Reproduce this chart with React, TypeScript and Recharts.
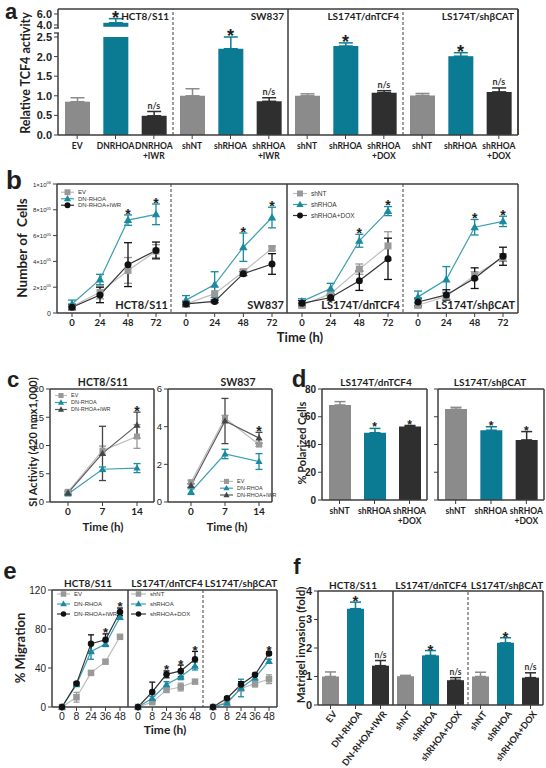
import React from 'react'
import {
  BarChart,
  Bar,
  LineChart,
  Line,
  XAxis,
  YAxis,
  ErrorBar,
  ReferenceLine,
  ReferenceDot,
} from 'recharts'

const GRAY = '#8b8b8b'
const TEAL = '#0b7b93'
const DARK = '#2f2f2f'
const AX = '#3c3c3c'
const INK = '#1e1e1e'
const SANS = '"Liberation Sans", Arial, sans-serif'
const LATO = 'Lato, "Open Sans", sans-serif'

const C_CTRL = '#999999'
const C_CTRL_LINE = '#bdbdbd'
const C_KD = '#1a8aa0'
const C_KD_LINE = '#3d9fb2'
const C_DRUG = '#111111'
const C_DRUG_LINE = '#333333'
const C_IWR = '#454545'
const C_IWR_LINE = '#5a5a5a'

// ---- a: relative TCF4 activity (broken y axis)
const aLabels = ['EV', 'DNRHOA', 'DNRHOA\n+IWR', 'shNT', 'shRHOA', 'shRHOA\n+IWR', 'shNT', 'shRHOA', 'shRHOA\n+DOX', 'shNT', 'shRHOA', 'shRHOA\n+DOX']
const aMean = [0.85, 4.4, 0.49, 1.0, 2.2, 0.86, 1.0, 2.27, 1.08, 1.01, 2.01, 1.1]
const aSd = [0.1, 0.75, 0.11, 0.18, 0.3, 0.09, 0.05, 0.08, 0.05, 0.05, 0.09, 0.1]
const aMarks = ['', '*', 'n/s', '', '*', 'n/s', '', '*', 'n/s', '', '*', 'n/s']
const aGroups = ['HCT8/S11', 'SW837', 'LS174T/dnTCF4', 'LS174T/shβCAT']
const aTicks = [0, 0.5, 1, 1.5, 2, 2.5, 4, 6]

// ---- b: cell number (x10^5)
const bTimes = [0, 24, 48, 72]
const bTicks = [0, 2, 4, 6, 8, 10]
const bSubs = ['HCT8/S11', 'SW837', 'LS174T/dnTCF4', 'LS174T/shβCAT']
const bNamesA = ['EV', 'DN-RHOA', 'DN-RHOA+IWR']
const bNamesB = ['shNT', 'shRHOA', 'shRHOA+DOX']
const b1Ctrl = [0.5, 1.6, 3.3, 4.8]
const b1CtrlSd = [0.2, 0.5, 1.0, 0.5]
const b1Kd = [0.7, 2.6, 7.2, 7.65]
const b1KdSd = [0.3, 0.4, 0.4, 0.8]
const b1Drug = [0.45, 1.4, 3.75, 4.85]
const b1DrugSd = [0.2, 0.6, 1.7, 0.65]
const b2Ctrl = [0.7, 1.5, 3.2, 5.0]
const b2CtrlSd = [0.2, 0.5, 0.15, 0.15]
const b2Kd = [1.0, 2.2, 5.1, 7.4]
const b2KdSd = [0.35, 1.0, 1.1, 0.8]
const b2Drug = [0.7, 0.9, 3.05, 3.8]
const b2DrugSd = [0.2, 0.1, 0.15, 0.8]
const b3Ctrl = [0.6, 1.5, 3.4, 5.2]
const b3CtrlSd = [0.2, 0.2, 0.4, 1.1]
const b3Kd = [0.9, 1.9, 5.6, 7.9]
const b3KdSd = [0.2, 0.4, 0.5, 0.35]
const b3Drug = [0.75, 1.2, 2.5, 4.2]
const b3DrugSd = [0.2, 0.2, 0.75, 1.6]
const b4Ctrl = [0.6, 1.3, 2.9, 4.3]
const b4CtrlSd = [0.2, 0.2, 0.3, 0.3]
const b4Kd = [1.25, 2.6, 6.65, 7.1]
const b4KdSd = [0.45, 1.0, 0.6, 0.4]
const b4Drug = [0.85, 1.4, 2.7, 4.4]
const b4DrugSd = [0.3, 0.4, 0.8, 0.7]

// ---- c: SI activity
const cTimes = [0, 7, 14]
const cTitles = ['HCT8/S11', 'SW837']
const c1Ev = [1.8, 9.1, 11.6]
const c1EvSd = [0.3, 0.8, 2.1]
const c1Dn = [1.4, 5.8, 6.0]
const c1DnSd = [0.2, 0.4, 0.8]
const c1Iwr = [1.6, 8.6, 13.6]
const c1IwrSd = [0.3, 4.8, 2.3]
const c2Ev = [1.05, 4.45, 3.05]
const c2EvSd = [0.1, 0.15, 0.1]
const c2Dn = [0.55, 2.55, 2.15]
const c2DnSd = [0.15, 0.25, 0.42]
const c2Iwr = [0.88, 4.3, 3.4]
const c2IwrSd = [0.1, 1.2, 0.3]

// ---- d: polarized cells
const dLabels = ['shNT', 'shRHOA', 'shRHOA\n+DOX']
const dTitles = ['LS174T/dnTCF4', 'LS174T/shβCAT']
const d1Mean = [68.5, 48.5, 53]
const d1Sd = [2.4, 3.1, 0.7]
const d2Mean = [65.5, 50.3, 43.3]
const d2Sd = [1.3, 2.5, 6]
const dMarks = ['', '*', '*']

// ---- e: migration
const eTimes = ['0', '8', '24', '36', '48']
const eTitles = ['HCT8/S11', 'LS174T/dnTCF4', 'LS174T/shβCAT']
const e1Ev = [0, 10, 35, 46.5, 72]
const e1EvSd = [0, 5, 2, 1.5, 2]
const e1Dn = [0, 23, 57, 64.5, 92]
const e1DnSd = [0, 1.5, 8, 2.5, 2]
const e1Iwr = [0, 24, 65, 69, 97.5]
const e1IwrSd = [0, 1.5, 9, 6, 4]
const e2Nt = [0, 5, 17.5, 20.5, 26]
const e2NtSd = [0, 1.5, 2, 4, 2]
const e2Rh = [0, 9, 23, 31, 42]
const e2RhSd = [0, 2, 3, 3, 4]
const e2Dox = [0, 15.5, 33.5, 37, 49]
const e2DoxSd = [0, 10, 3.5, 6, 8]
const e3Nt = [0, 5, 19, 24, 28.5]
const e3NtSd = [0, 1.5, 2, 3.5, 4.5]
const e3Rh = [0, 4, 19.5, 30, 47]
const e3RhSd = [0, 1.5, 9, 2, 2]
const e3Dox = [0, 9, 23, 33, 55]
const e3DoxSd = [0, 1.5, 3, 1.5, 1.5]

// ---- f: matrigel invasion
const fLabels = ['EV', 'DN-RHOA', 'DN-RHOA+IWR', 'shNT', 'shRHOA', 'shRHOA+DOX', 'shNT', 'shRHOA', 'shRHOA+DOX']
const fTitles = ['HCT8/S11', 'LS174T/dnTCF4', 'LS174T/shβCAT']
const fMean = [1.0, 3.38, 1.38, 1.01, 1.74, 0.87, 1.0, 2.18, 0.96]
const fSd = [0.16, 0.23, 0.18, 0.03, 0.17, 0.09, 0.15, 0.18, 0.17]
const fMarks = ['', '*', 'n/s', '', '*', 'n/s', '', '*', 'n/s']

// ---------------------------------------------------------------
type Box = { x0: number; y0: number; x1: number; y1: number }
const PAD = 6

// the frame axes (top / right) are 1px thick boxes, so the margins lose 1px there
function place(b: Box, yw: number, xh: number) {
  return {
    style: { position: 'absolute' as const, left: b.x0 - yw - PAD, top: b.y0 - PAD },
    width: b.x1 - b.x0 + yw + 2 * PAD,
    height: b.y1 - b.y0 + xh + 2 * PAD,
    margin: { top: PAD - 1, right: PAD - 1, bottom: PAD, left: PAD },
  }
}

// broken axis for panel a: 0..2.5 linear, then 4..6 squeezed
const aDisp = (v: number) => (v <= 2.5 ? v : 2.806 + (v - 4) * 0.1405)
const A_TOP = 3.214

const SERIES = ['g', 't', 'k']
const FILL: Record<string, string> = { g: GRAY, t: TEAL, k: DARK }

function barRows(prefix: string, labels: string[], mean: number[], sd: number[], marks: string[], f = (v: number) => v) {
  return labels.map((label, i) => {
    const s = SERIES[i % 3]
    const m = f(mean[i])
    const hi = f(mean[i] + sd[i])
    return { id: `${prefix}${i}`, label, [s]: m, [`${s}E`]: [0, hi - m], hi, mark: marks[i] }
  })
}

function Marker({ kind, cx, cy, color, s }: any) {
  if (cx == null || cy == null) return <g />
  if (kind === 'sq') return <rect x={cx - s / 2} y={cy - s / 2} width={s} height={s} fill={color} />
  if (kind === 'tri')
    return <polygon points={`${cx},${cy - s * 0.62} ${cx - s * 0.6},${cy + s * 0.42} ${cx + s * 0.6},${cy + s * 0.42}`} fill={color} />
  return <circle cx={cx} cy={cy} r={s / 2} fill={color} />
}

function Mark({ cx, cy, text, size }: any) {
  if (text === '*') {
    return (
      <text x={cx} y={cy - 1.5 + 0.38 * size} textAnchor="middle" fontSize={size} fontWeight="bold" fontFamily={SANS} fill={INK}>
        *
      </text>
    )
  }
  return (
    <text x={cx} y={cy - 2.5} textAnchor="middle" fontSize={size} fontWeight={700} fontFamily={LATO} fill="#333">
      {text}
    </text>
  )
}

const BrokenBar = (p: any) => {
  const { x, y, width, height, fill } = p
  if (!height || height <= 0) return <g />
  const v = p.payload ? p.payload.t : 0
  const rect = <rect x={x} y={y} width={width} height={height} fill={fill} />
  if (!v || v <= 2.5) return rect
  const ppu = height / v
  const base = y + height
  return (
    <g>
      {rect}
      <rect x={x - 1} y={base - 2.76 * ppu} width={width + 2} height={0.26 * ppu} fill="#fff" />
    </g>
  )
}

const aTickDisp = aTicks.map(aDisp)
const ATick = (p: any) => {
  const d = p.payload.value
  const idx = aTickDisp.findIndex((v) => Math.abs(v - d) < 1e-6)
  const val = aTicks[idx]
  const axisX = p.x + 6
  return (
    <g>
      <text x={p.x} y={p.y} dy={4} textAnchor="end" fontSize={11} fontWeight="bold" fontFamily={SANS} fill={INK}>
        {val.toFixed(1)}
      </text>
      {val === 4 && (
        <g>
          <rect x={axisX - 3} y={p.y + 3} width={6} height={5} fill="#fff" />
          <line x1={axisX - 4} x2={axisX + 1} y1={p.y + 3} y2={p.y + 3} stroke={AX} strokeWidth={1.3} />
          <line x1={axisX - 4} x2={axisX + 1} y1={p.y + 8} y2={p.y + 8} stroke={AX} strokeWidth={1.3} />
        </g>
      )}
    </g>
  )
}

const SciTick = (p: any) => {
  const v = p.payload.value
  if (v === 0)
    return (
      <text x={p.x} y={p.y} dy={2.5} textAnchor="end" fontSize={7} fontFamily={SANS} fill={INK}>
        0
      </text>
    )
  const m = v >= 10 ? v / 10 : v
  const e = v >= 10 ? '06' : '05'
  return (
    <text x={p.x} y={p.y} dy={2.5} textAnchor="end" fontSize={6} fontFamily={SANS} fill={INK}>
      {m}×10
      <tspan dy={-2.5} fontSize={4}>
        {e}
      </tspan>
    </text>
  )
}

const labelTick = (rows: any[], fs: number) => (p: any) => {
  const row = rows.find((r) => r.id === p.payload.value)
  const lines = String(row ? row.label : '').split('\n')
  return (
    <text x={p.x} y={p.y} textAnchor="middle" fontSize={fs} fontFamily={LATO} fontWeight={700} fill={INK}>
      {lines.map((l, i) => (
        <tspan key={i} x={p.x} dy={i === 0 ? '0.9em' : '1.2em'}>
          {l}
        </tspan>
      ))}
    </text>
  )
}

const rotTick = (rows: any[], fs: number) => (p: any) => {
  const row = rows.find((r) => r.id === p.payload.value)
  const ax = p.x + 4
  const ay = p.y + 1
  return (
    <text x={ax} y={ay} transform={`rotate(-52 ${ax} ${ay})`} textAnchor="end" dominantBaseline="central" fontSize={fs} fontFamily={LATO} fontWeight={700} fill={INK}>
      {row ? row.label : ''}
    </text>
  )
}

const frameLine = (dash?: boolean) => ({ stroke: AX, strokeWidth: dash ? 1 : 1.5, strokeDasharray: dash ? '3 2' : undefined })

function BarPanel(p: any) {
  const pl = place(p.box, p.yw, p.xh)
  const rows = p.rows
  return (
    <div style={pl.style}>
      <BarChart width={pl.width} height={pl.height} margin={pl.margin} data={rows} barGap={-p.barSize} barSize={p.barSize}>
        <XAxis dataKey="id" interval={0} height={p.xh} tickSize={4} tick={p.xTick} tickLine={{ stroke: AX }} axisLine={{ stroke: AX, strokeWidth: 1.5 }} />
        <XAxis xAxisId="top" dataKey="id" orientation="top" height={1} tick={false} tickLine={false} axisLine={frameLine()} />
        <YAxis
          domain={[0, p.top]}
          ticks={p.yTicks}
          width={p.yw}
          interval={0}
          tickSize={4}
          tick={p.yTick}
          tickFormatter={p.yFmt}
          tickLine={{ stroke: AX }}
          axisLine={{ stroke: AX, strokeWidth: 1.5 }}
        />
        <YAxis yAxisId="right" orientation="right" width={1} domain={[0, 1]} tick={false} tickLine={false} axisLine={frameLine()} />
        {SERIES.map((s) => (
          <Bar key={s} dataKey={s} fill={FILL[s]} isAnimationActive={false} shape={s === 't' && p.tealShape ? p.tealShape : undefined}>
            <ErrorBar dataKey={`${s}E`} width={p.cap} stroke={FILL[s]} strokeWidth={1.5} direction="y" />
          </Bar>
        ))}
        {(p.dividers || []).map((d: any) => {
          const last = d.at >= rows.length
          return (
            <ReferenceLine
              key={d.at}
              x={rows[last ? rows.length - 1 : d.at].id}
              position={last ? 'end' : 'start'}
              {...frameLine(d.dash)}
              label={
                d.title
                  ? { value: d.title, position: 'insideTopRight', offset: 4, fontSize: p.titleSize, fontFamily: LATO, fontWeight: 700, fill: INK }
                  : undefined
              }
            />
          )
        })}
        {rows
          .filter((r: any) => r.mark)
          .map((r: any) => (
            <ReferenceDot
              key={r.id}
              x={r.id}
              y={r.hi}
              r={0}
              ifOverflow="visible"
              shape={(q: any) => <Mark cx={q.cx} cy={q.cy} text={r.mark} size={r.mark === '*' ? p.starSize : p.nsSize} />}
            />
          ))}
      </BarChart>
    </div>
  )
}

function LegendAt({ series, spec, ms }: any) {
  return (
    <svg
      width={spec.iconW + 70}
      height={series.length * spec.rowH + 2}
      style={{ position: 'absolute', left: spec.x, top: spec.y, overflow: 'visible' }}
    >
      {series.map((s: any, i: number) => {
        const cy = spec.rowH * (i + 0.5)
        return (
          <g key={s.key}>
            <line x1={0} x2={spec.iconW} y1={cy} y2={cy} stroke={s.line} strokeWidth={1.2} />
            <Marker kind={s.marker} cx={spec.iconW / 2} cy={cy} color={s.color} s={ms * 0.85} />
            <text x={spec.iconW + 4} y={cy} dy="0.35em" fontSize={spec.fs} fontFamily={SANS} fill="#333">
              {s.name}
            </text>
          </g>
        )
      })}
    </svg>
  )
}

function LinePanel(p: any) {
  const pl = place(p.box, p.yw, p.xh)
  const rows = p.xs.map((t: any, i: number) => {
    const r: any = { t }
    p.series.forEach((s: any) => {
      r[s.key] = s.mean[i]
      r[`${s.key}E`] = s.sd[i]
    })
    return r
  })
  return (
    <>
      <div style={pl.style}>
        <LineChart width={pl.width} height={pl.height} margin={pl.margin} data={rows}>
          <XAxis
            dataKey="t"
            type={p.xNum ? 'number' : 'category'}
            scale={p.xNum ? 'linear' : 'point'}
            domain={p.xNum ? [p.xs[0], p.xs[p.xs.length - 1]] : undefined}
            ticks={p.xNum ? p.xs : undefined}
            padding={{ left: p.padL, right: p.padR }}
            interval={0}
            height={p.xh}
            tickSize={4}
            tick={p.xTick}
            tickLine={{ stroke: AX }}
            axisLine={{ stroke: AX, strokeWidth: 1.5 }}
          />
          <XAxis xAxisId="top" dataKey="t" orientation="top" height={1} tick={false} tickLine={false} axisLine={frameLine()} />
          <YAxis
            domain={[0, p.yTop]}
            ticks={p.yTicks}
            hide={!p.yw}
            width={p.yw || 0}
            interval={0}
            tickSize={4}
            tick={p.yTick}
            tickLine={{ stroke: AX }}
            axisLine={{ stroke: AX, strokeWidth: 1.5 }}
          />
          <YAxis
            yAxisId="right"
            orientation="right"
            width={1}
            domain={[0, 1]}
            tick={false}
            tickLine={false}
            axisLine={frameLine(p.dash)}
            label={
              p.corner
                ? { value: p.corner, position: 'insideBottomRight', offset: 4, fontSize: 11, fontFamily: LATO, fontWeight: 700, fill: INK }
                : undefined
            }
          />
          {p.series.map((s: any) => (
            <Line
              key={s.key}
              dataKey={s.key}
              stroke={s.line}
              strokeWidth={1.2}
              isAnimationActive={false}
              activeDot={false}
              dot={(d: any) => <Marker key={`${s.key}-${d.index}`} kind={s.marker} cx={d.cx} cy={d.cy} color={s.color} s={p.ms} />}
            >
              <ErrorBar dataKey={`${s.key}E`} width={p.cap} stroke={s.color} strokeWidth={1.3} direction="y" />
            </Line>
          ))}
          {p.stars.map((st: any, j: number) => {
            const s = p.series.find((q: any) => q.key === st.k)
            return (
              <ReferenceDot
                key={j}
                x={p.xs[st.i]}
                y={s.mean[st.i] + s.sd[st.i]}
                r={0}
                ifOverflow="visible"
                shape={(q: any) => <Mark cx={q.cx} cy={q.cy} text="*" size={p.starSize} />}
              />
            )
          })}
        </LineChart>
      </div>
      {p.legend && <LegendAt series={p.series} spec={p.legend} ms={p.ms} />}
    </>
  )
}

function trio(names: string[], ctrl: number[], ctrlSd: number[], kd: number[], kdSd: number[], drug: number[], drugSd: number[], iwrTri = false) {
  return [
    { key: 'ctrl', name: names[0], mean: ctrl, sd: ctrlSd, marker: 'sq', color: C_CTRL, line: C_CTRL_LINE },
    { key: 'kd', name: names[1], mean: kd, sd: kdSd, marker: 'tri', color: C_KD, line: C_KD_LINE },
    iwrTri
      ? { key: 'drug', name: names[2], mean: drug, sd: drugSd, marker: 'tri', color: C_IWR, line: C_IWR_LINE }
      : { key: 'drug', name: names[2], mean: drug, sd: drugSd, marker: 'dot', color: C_DRUG, line: C_DRUG_LINE },
  ]
}

function Txt({ x, y, children, size, rotate = false, family = LATO, weight = 700 }: any) {
  return (
    <div
      style={{
        position: 'absolute',
        left: x,
        top: y,
        transform: `translate(-50%, -50%)${rotate ? ' rotate(-90deg)' : ''}`,
        fontSize: size,
        fontWeight: weight,
        fontFamily: family,
        whiteSpace: 'pre',
        lineHeight: 1,
        color: INK,
      }}
    >
      {children}
    </div>
  )
}

// ---------------------------------------------------------------
function PanelA() {
  const rows = barRows('a', aLabels, aMean, aSd, aMarks, aDisp)
  return (
    <BarPanel
      rows={rows}
      box={{ x0: 58, y0: 9, x1: 518, y1: 135 }}
      yw={40}
      xh={30}
      top={A_TOP}
      yTicks={aTickDisp}
      yTick={ATick}
      xTick={labelTick(rows, 8.5)}
      barSize={25}
      cap={7}
      titleSize={10}
      dividers={[
        { at: 3, dash: true, title: aGroups[0] },
        { at: 6, title: aGroups[1] },
        { at: 9, dash: true, title: aGroups[2] },
        { at: 12, title: aGroups[3] },
      ]}
      starSize={18}
      nsSize={9}
      tealShape={BrokenBar}
    />
  )
}

const lineTickB = { fontSize: 9.5, fontFamily: LATO, fontWeight: 700, fill: INK }

function PanelB() {
  const sets = [
    trio(bNamesA, b1Ctrl, b1CtrlSd, b1Kd, b1KdSd, b1Drug, b1DrugSd),
    trio(['shNT', 'shRHOA', 'shRHOA+IWR'], b2Ctrl, b2CtrlSd, b2Kd, b2KdSd, b2Drug, b2DrugSd),
    trio(bNamesB, b3Ctrl, b3CtrlSd, b3Kd, b3KdSd, b3Drug, b3DrugSd),
    trio(bNamesB, b4Ctrl, b4CtrlSd, b4Kd, b4KdSd, b4Drug, b4DrugSd),
  ]
  const edges = [57, 171, 287, 403, 518]
  const legends: any[] = [
    { x: 61, y: 188.5, rowH: 6.5, fs: 6, iconW: 13 },
    null,
    { x: 293, y: 187.5, rowH: 11, fs: 6.5, iconW: 14 },
    null,
  ]
  return (
    <>
      {sets.map((series, i) => (
        <LinePanel
          key={i}
          box={{ x0: edges[i], y0: 184, x1: edges[i + 1], y1: 313 }}
          yw={i === 0 ? 36 : 0}
          xh={18}
          yTop={10}
          yTicks={bTicks}
          yTick={SciTick}
          xs={bTimes}
          xNum
          padL={15}
          padR={15}
          xTick={lineTickB}
          series={series}
          stars={[{ i: 2, k: 'kd' }, { i: 3, k: 'kd' }]}
          starSize={14}
          dash={i % 2 === 0}
          corner={bSubs[i]}
          ms={7}
          cap={4}
          legend={legends[i]}
        />
      ))}
    </>
  )
}

const numTick = (fs: number, bold = true) => ({ fontSize: fs, fontFamily: SANS, fontWeight: bold ? 'bold' : 'normal', fill: INK })

function PanelC() {
  const s1 = trio(bNamesA, c1Ev, c1EvSd, c1Dn, c1DnSd, c1Iwr, c1IwrSd, true)
  const s2 = trio(bNamesA, c2Ev, c2EvSd, c2Dn, c2DnSd, c2Iwr, c2IwrSd, true)
  const xt = { fontSize: 10, fontFamily: LATO, fontWeight: 700, fill: INK }
  return (
    <>
      <LinePanel
        box={{ x0: 50, y0: 389, x1: 154, y1: 502 }}
        yw={26}
        xh={18}
        yTop={20}
        yTicks={[0, 5, 10, 15, 20]}
        yTick={numTick(9.5, false)}
        xs={cTimes}
        xNum
        padL={18}
        padR={17}
        xTick={xt}
        series={s1}
        stars={[{ i: 2, k: 'drug' }]}
        starSize={14}
        ms={6}
        cap={3.5}
        legend={{ x: 55, y: 391.5, rowH: 7, fs: 5.5, iconW: 12 }}
      />
      <LinePanel
        box={{ x0: 168, y0: 389, x1: 272, y1: 502 }}
        yw={16}
        xh={18}
        yTop={6}
        yTicks={[0, 2, 4, 6]}
        yTick={numTick(9.5, false)}
        xs={cTimes}
        xNum
        padL={23}
        padR={13}
        xTick={xt}
        series={s2}
        stars={[{ i: 2, k: 'drug' }]}
        starSize={14}
        ms={6}
        cap={3.5}
        legend={{ x: 220, y: 477.5, rowH: 6.8, fs: 5.5, iconW: 13 }}
      />
    </>
  )
}

function PanelD() {
  const r1 = barRows('d1-', dLabels, d1Mean, d1Sd, dMarks)
  const r2 = barRows('d2-', dLabels, d2Mean, d2Sd, dMarks)
  return (
    <>
      <BarPanel
        rows={r1}
        box={{ x0: 322, y0: 389, x1: 427, y1: 500 }}
        yw={22}
        xh={28}
        top={80}
        yTicks={[0, 20, 40, 60, 80]}
        yTick={numTick(10)}
        xTick={labelTick(r1, 8.5)}
        barSize={22}
        cap={5.5}
        starSize={12}
        nsSize={9}
      />
      <BarPanel
        rows={r2}
        box={{ x0: 438, y0: 389, x1: 544, y1: 500 }}
        yw={6}
        xh={28}
        top={80}
        yTicks={[0, 20, 40, 60, 80]}
        yTick={numTick(10)}
        yFmt={() => ''}
        xTick={labelTick(r2, 8.5)}
        barSize={22}
        cap={5.5}
        starSize={12}
        nsSize={9}
      />
    </>
  )
}

function PanelE() {
  const sets = [
    trio(bNamesA, e1Ev, e1EvSd, e1Dn, e1DnSd, e1Iwr, e1IwrSd),
    trio(bNamesB, e2Nt, e2NtSd, e2Rh, e2RhSd, e2Dox, e2DoxSd),
    trio(bNamesB, e3Nt, e3NtSd, e3Rh, e3RhSd, e3Dox, e3DoxSd),
  ]
  const edges = [52, 128, 203, 277]
  const stars = [
    [3, 4],
    [2, 3, 4],
    [4],
  ]
  const legends: any[] = [
    { x: 57, y: 589, rowH: 10, fs: 6, iconW: 13 },
    { x: 131, y: 589, rowH: 10, fs: 6, iconW: 15 },
    null,
  ]
  return (
    <>
      {sets.map((series, i) => (
        <LinePanel
          key={i}
          box={{ x0: edges[i], y0: 590, x1: edges[i + 1], y1: 707 }}
          yw={i === 0 ? 26 : 0}
          xh={18}
          yTop={120}
          yTicks={[0, 40, 80, 120]}
          yTick={numTick(10, false)}
          xs={eTimes}
          padL={10}
          padR={8}
          xTick={numTick(10.5, false)}
          series={series}
          stars={stars[i].map((k) => ({ i: k, k: 'drug' }))}
          starSize={13}
          dash={i === 1}
          ms={6.5}
          cap={3}
          legend={legends[i]}
        />
      ))}
    </>
  )
}

function PanelF() {
  const rows = barRows('f', fLabels, fMean, fSd, fMarks)
  return (
    <BarPanel
      rows={rows}
      box={{ x0: 318, y0: 591, x1: 543, y1: 705 }}
      yw={20}
      xh={58}
      top={4}
      yTicks={[0, 1, 2, 3, 4]}
      yTick={numTick(11)}
      xTick={rotTick(rows, 9)}
      barSize={17}
      cap={5.5}
      dividers={[{ at: 3 }, { at: 6, dash: true }]}
      starSize={15}
      nsSize={8.5}
    />
  )
}

export default function App() {
  return (
    <div style={{ position: 'absolute', left: 0, top: 0, width: 546, height: 768, background: '#fff', overflow: 'hidden' }}>
      <PanelA />
      <PanelB />
      <PanelC />
      <PanelD />
      <PanelE />
      <PanelF />

      <Txt x={11} y={12} size={22} family={SANS}>a</Txt>
      <Txt x={14} y={180} size={26} family={SANS}>b</Txt>
      <Txt x={13} y={380} size={22} family={SANS}>c</Txt>
      <Txt x={299} y={379} size={24} family={SANS}>d</Txt>
      <Txt x={10} y={571} size={24} family={SANS}>e</Txt>
      <Txt x={297} y={567} size={22} family={SANS}>f</Txt>

      <Txt x={26} y={73} size={12.5} rotate>Relative TCF4 activity</Txt>
      <Txt x={23} y={248} size={13.5} rotate>Number of  Cells</Txt>
      <Txt x={32} y={442} size={11} rotate>SI Activity (420 nmx1,000)</Txt>
      <Txt x={301} y={443} size={11} rotate>% Polarized Cells</Txt>
      <Txt x={20} y={648} size={13} rotate>% Migration</Txt>
      <Txt x={301} y={645} size={11.5} rotate>Matrigel invasion (fold)</Txt>

      <Txt x={300} y={337} size={13}>Time (h)</Txt>
      <Txt x={103} y={527} size={11.5}>Time (h)</Txt>
      <Txt x={227} y={527} size={11.5}>Time (h)</Txt>
      <Txt x={165} y={730} size={12}>Time (h)</Txt>

      <Txt x={103} y={382} size={10.5}>{cTitles[0]}</Txt>
      <Txt x={238} y={382} size={10.5}>{cTitles[1]}</Txt>
      <Txt x={376} y={382} size={10}>{dTitles[0]}</Txt>
      <Txt x={490} y={382} size={10}>{dTitles[1]}</Txt>
      <Txt x={88} y={583} size={10}>{eTitles[0]}</Txt>
      <Txt x={167} y={583} size={10}>{eTitles[1]}</Txt>
      <Txt x={241} y={583} size={10}>{eTitles[2]}</Txt>
      <Txt x={353} y={585} size={10}>{fTitles[0]}</Txt>
      <Txt x={431} y={585} size={10}>{fTitles[1]}</Txt>
      <Txt x={507} y={585} size={10}>{fTitles[2]}</Txt>
    </div>
  )
}
